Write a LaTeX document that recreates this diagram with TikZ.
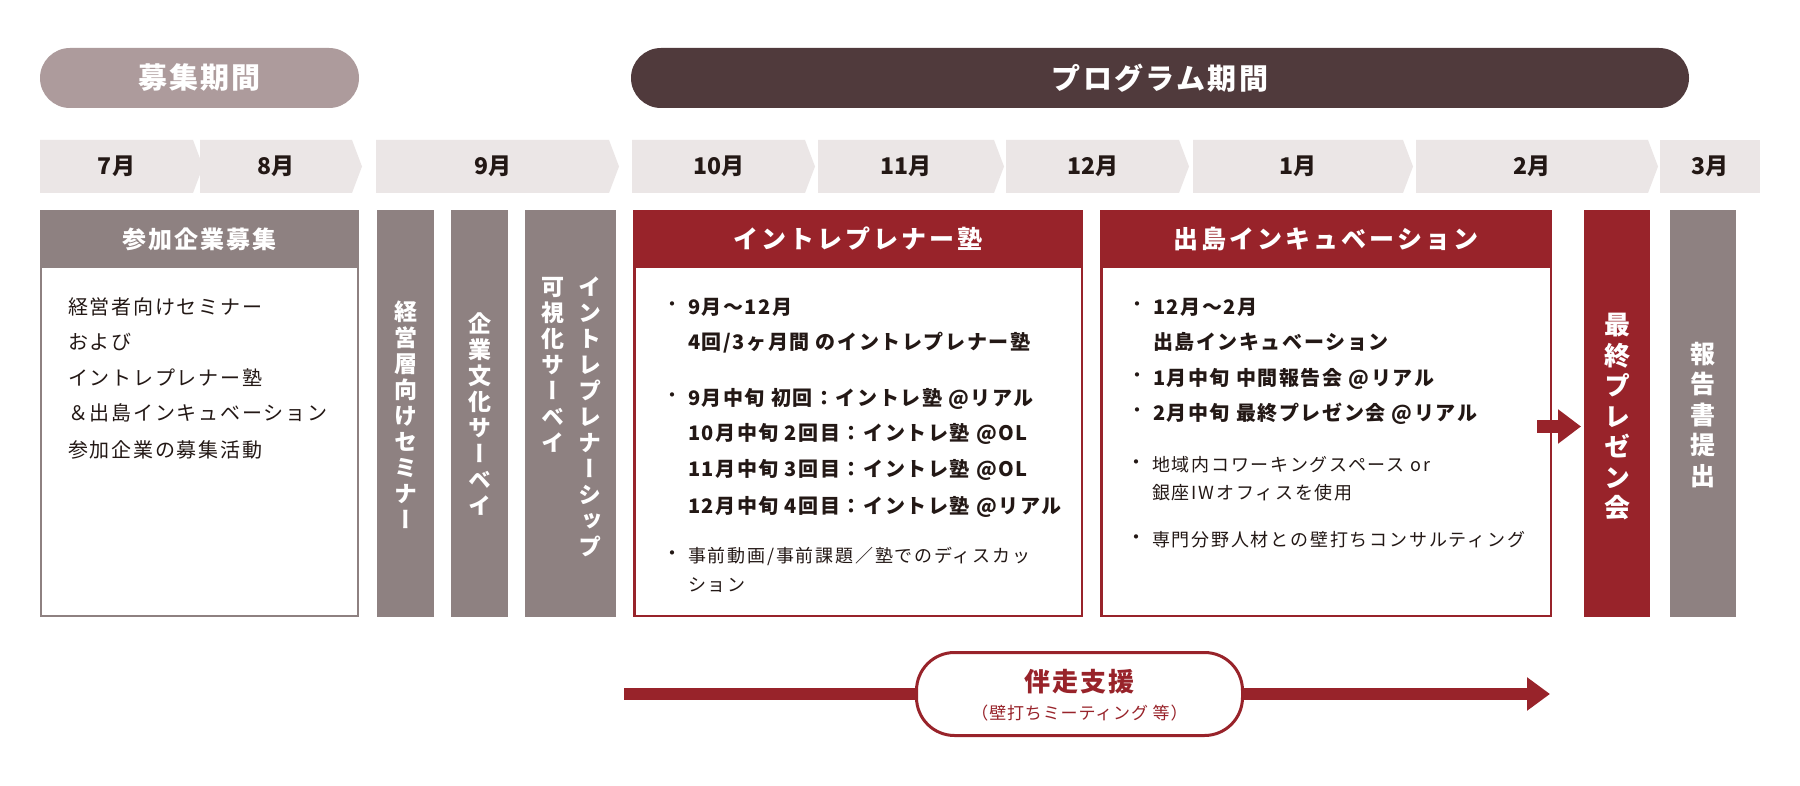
\documentclass[tikz,border=0pt]{standalone}
\usepackage{fontspec}
\setmainfont{Noto Sans CJK JP}
\newfontfamily\vjp{Noto Sans CJK JP}[RawFeature=+vert]
\usetikzlibrary{arrows.meta}
\definecolor{mauve}{HTML}{AD9B9C}
\definecolor{dkbrown}{HTML}{503A3C}
\definecolor{mbar}{HTML}{EBE6E6}
\definecolor{gbar}{HTML}{8E8181}
\definecolor{dred}{HTML}{98232A}
\definecolor{ink}{HTML}{231815}
\newcommand\fsz[2]{\fontsize{#1}{#2}\selectfont}
\begin{document}
\begin{tikzpicture}[x=1pt,y=-1pt,
  every node/.style={inner sep=0pt, outer sep=0pt},
  pill/.style={rounded corners=30pt, minimum height=60pt, text=white,
    font=\bfseries\fsz{29}{32}\addfontfeature{LetterSpace=8}},
  month/.style={text=ink, font=\bfseries\fsz{23}{26}},
  head/.style={minimum height=58pt, text=white,
    font=\bfseries\fsz{25}{28}\addfontfeature{LetterSpace=12}},
  vbar/.style={minimum height=407pt},
  vtxt/.style={text=white, align=center, font=\vjp\bfseries\fsz{23}{26}},
  vbig/.style={text=white, align=center, font=\vjp\bfseries\fsz{26}{30.5}},
  bl/.style={anchor=west, text=ink, text height=17.6pt, text depth=2.4pt,
    font=\bfseries\fsz{20}{24}\addfontfeature{LetterSpace=8}},
  rl/.style={anchor=west, text=ink, text height=15.8pt, text depth=2.2pt,
    font=\fsz{18}{22}\addfontfeature{LetterSpace=10}},
  pl/.style={anchor=west, text=ink, text height=17.6pt, text depth=2.4pt,
    font=\fsz{20}{24}\addfontfeature{LetterSpace=9}},
  bu/.style={text=ink, font=\fsz{20}{24}},
  fat/.style={dred, line width=#1},
]
\useasboundingbox (0,0) rectangle (1800,786);
\fill[white] (0,0) rectangle (1800,786);

% period pills
\node[pill, fill=mauve, minimum width=319pt] (recruit) at (199.5,78) {募集期間};
\node[pill, fill=dkbrown, minimum width=1058pt] (program) at (1160,78) {プログラム期間};

% month chevrons
\foreach \a/\b/\m/\n in {40/193/7月/7, 200/352/8月/8, 376/609/9月/9, 632/805/10月/10,
  818/994/11月/11, 1006/1179/12月/12, 1193/1403/1月/1, 1416/1648/2月/2}{
  \fill[mbar] (\a,140) -- (\b,140) -- (\b+10,166.5) -- (\b,193) -- (\a,193) -- cycle;
  \node[month] (m\n) at ({(\a+\b)/2},166.5) {\m};
}
\fill[mbar] (1660,140) rectangle (1760,193);
\node[month] (m3) at (1710,166.5) {3月};

% recruitment box
\node[draw=gbar, line width=2pt, minimum width=317pt, minimum height=405pt] (sanka) at (199.5,413.5) {};
\node[head, fill=gbar, minimum width=319pt, font=\bfseries\fsz{24}{28}\addfontfeature{LetterSpace=8}] (sankah) at (199.5,239) {参加企業募集};
\node[pl] (s1) at (68,307) {経営者向けセミナー};
\node[pl] (s2) at (68,342) {および};
\node[pl] (s3) at (68,378) {イントレプレナー塾};
\node[pl] (s4) at (68,413) {＆出島インキュベーション};
\node[pl] (s5) at (68,450) {参加企業の募集活動};

% vertical gray bars
\node[vbar, fill=gbar, minimum width=57pt] (keiei) at (405.5,413.5) {};
\node[vtxt] (keieit) at (405.5,415) {経\\営\\層\\向\\け\\セ\\ミ\\ナ\\ー};
\node[vbar, fill=gbar, minimum width=57pt] (bunka) at (479.5,413.5) {};
\node[vtxt] (bunkat) at (479.5,414) {企\\業\\文\\化\\サ\\ー\\ベ\\イ};
\node[vbar, fill=gbar, minimum width=91pt] (intr) at (570.5,413.5) {};
\node[vtxt, anchor=north] (intr1) at (590,277) {イ\\ン\\ト\\レ\\プ\\レ\\ナ\\ー\\シ\\ッ\\プ};
\node[vtxt, anchor=north] (intr2) at (553,277) {可\\視\\化\\サ\\ー\\ベ\\イ};

% intrapreneur juku box
\node[draw=dred, line width=2.5pt, minimum width=447.5pt, minimum height=404.5pt] (juku) at (858,413.5) {};
\node[head, fill=dred, minimum width=450pt] (jukuh) at (858,239) {イントレプレナー塾};
\node[bu] (jb1) at (672,307) {・};
\node[bl] (j1) at (688,307) {9月～12月};
\node[bl] (j2) at (688,342) {4回/3ヶ月間 のイントレプレナー塾};
\node[bu] (jb2) at (672,398) {・};
\node[bl] (j3) at (688,398) {9月中旬 初回：イントレ塾 @リアル};
\node[bl] (j4) at (688,433) {10月中旬 2回目：イントレ塾 @OL};
\node[bl] (j5) at (688,469) {11月中旬 3回目：イントレ塾 @OL};
\node[bl] (j6) at (688,506) {12月中旬 4回目：イントレ塾 @リアル};
\node[bu] (jb3) at (672,556) {・};
\node[rl] (j7) at (688,556) {事前動画/事前課題／塾でのディスカッ};
\node[rl] (j8) at (688,585) {ション};

% dejima incubation box
\node[draw=dred, line width=2.5pt, minimum width=449.5pt, minimum height=404.5pt] (dejima) at (1326,413.5) {};
\node[head, fill=dred, minimum width=452pt] (dejimah) at (1326,239) {出島インキュベーション};
\node[bu] (db1) at (1137,307) {・};
\node[bl] (d1) at (1153,307) {12月～2月};
\node[bl] (d2) at (1153,342) {出島インキュベーション};
\node[bu] (db2) at (1137,378) {・};
\node[bl] (d3) at (1153,378) {1月中旬 中間報告会 @リアル};
\node[bu] (db3) at (1137,413) {・};
\node[bl] (d4) at (1153,413) {2月中旬 最終プレゼン会 @リアル};
\node[bu] (db4) at (1136,465) {・};
\node[rl] (d5) at (1152,465) {地域内コワーキングスペース or};
\node[rl] (d6) at (1152,493) {銀座IWオフィスを使用};
\node[bu] (db5) at (1136,540) {・};
\node[rl] (d7) at (1152,540) {専門分野人材との壁打ちコンサルティング};

% final presentation and report
\node[vbar, fill=dred, minimum width=66pt] (final) at (1617,413.5) {};
\node[vbig] (finalt) at (1617,417) {最\\終\\プ\\レ\\ゼ\\ン\\会};
\node[vbar, fill=gbar, minimum width=66pt] (report) at (1703,413.5) {};
\node[vbig, font=\vjp\bfseries\fsz{25}{30.5}] (reportt) at (1703,415) {報\\告\\書\\提\\出};

% arrow into final presentation
\coordinate (fa1) at (1537,426.5);
\coordinate (fa2) at (1581,426.5);
\draw[fat=13pt, -{Triangle[length=23pt,width=33pt]}] (fa1) -- (fa2);

% support arrow
\coordinate (ba1) at (624,694);
\coordinate (ba2) at (1550,694);
\draw[fat=12pt, -{Triangle[length=23pt,width=32pt]}] (ba1) -- (ba2);
\node[draw=dred, line width=3pt, fill=white, rounded corners=38pt, minimum width=326pt, minimum height=83pt] (support) at (1079.5,694) {};
\node[text=dred, font=\bfseries\fsz{26}{28}\addfontfeature{LetterSpace=8}] (supt) at (1079.5,682) {伴走支援};
\node[text=dred, font=\fsz{17}{20}\addfontfeature{LetterSpace=5}] (supsub) at (1079.5,713) {（壁打ちミーティング 等）};
\end{tikzpicture}
\end{document}
